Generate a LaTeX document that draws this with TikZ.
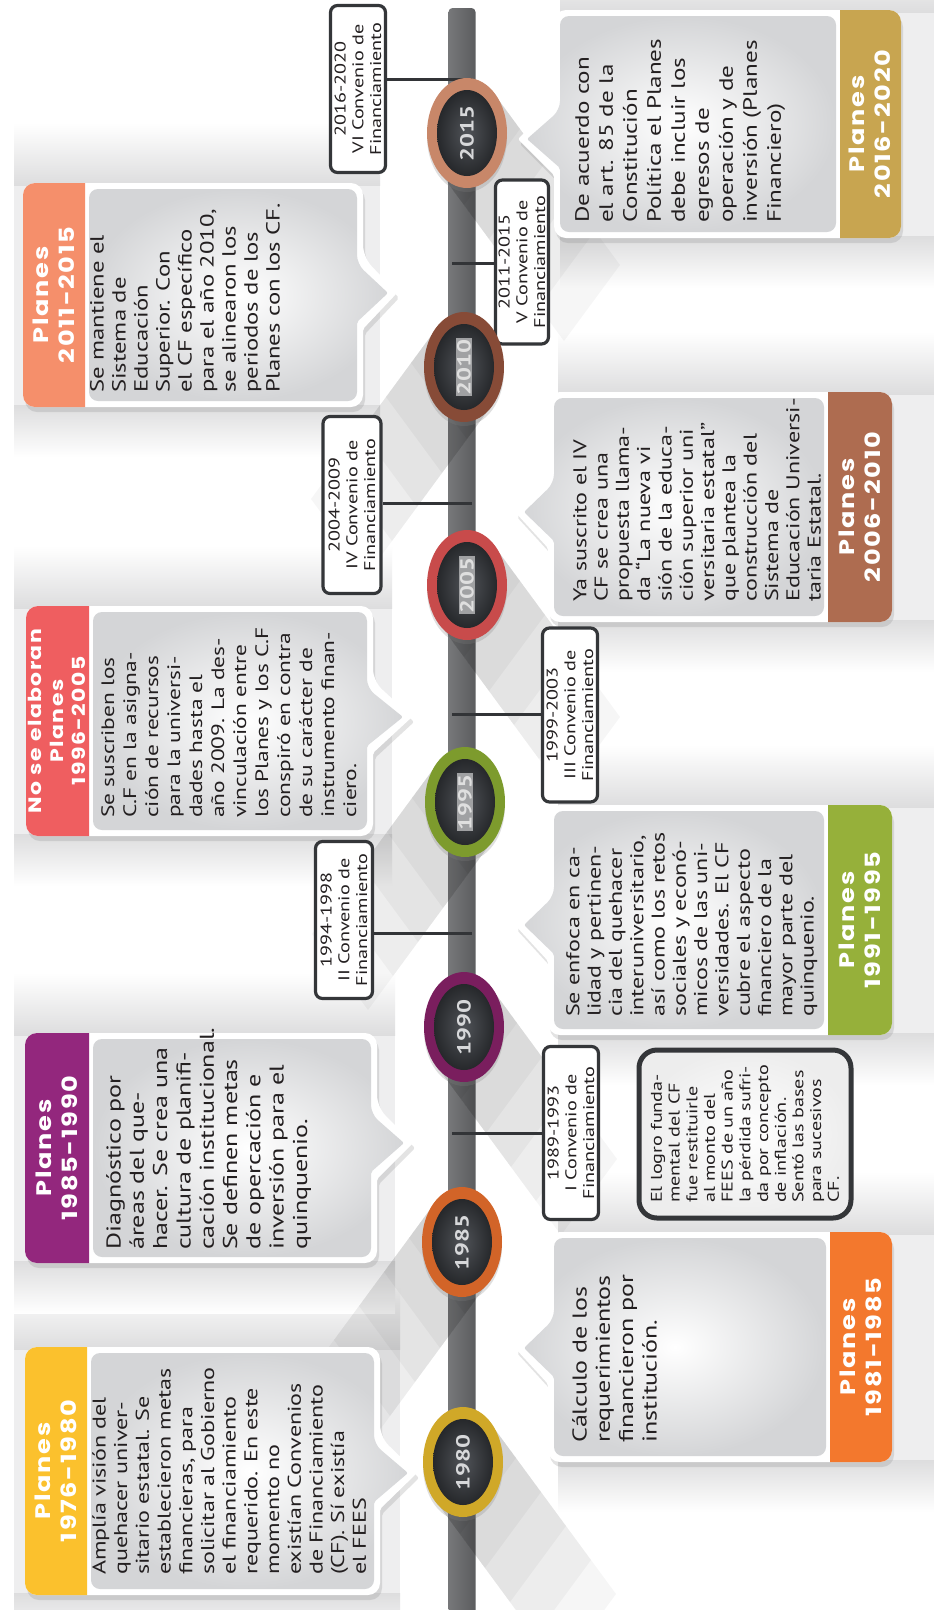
\documentclass[tikz,border=0pt]{standalone}
\usepackage{fontspec}
\setmainfont{PT Sans}[FakeStretch=1.30]
\newfontfamily\titlefont{Poppins}[FakeStretch=1.22,LetterSpace=8]
\usetikzlibrary{shapes.geometric,shadows}

\definecolor{bodytext}{RGB}{35,31,32}
\definecolor{bodyedge}{RGB}{212,213,215}
\definecolor{bandgray}{RGB}{221,221,222}
\definecolor{bandlight}{RGB}{238,238,239}
\definecolor{spinecol}{RGB}{92,93,95}
\definecolor{spinelt}{RGB}{118,119,121}
\definecolor{tickcol}{RGB}{50,52,55}
\definecolor{convline}{RGB}{52,54,57}
\definecolor{coredark}{RGB}{38,40,43}
\definecolor{corelight}{RGB}{80,83,88}
\definecolor{yeartext}{RGB}{215,216,218}
\definecolor{hlgray}{RGB}{160,161,163}
\definecolor{tab1}{RGB}{251,193,45}
\definecolor{tab2}{RGB}{147,39,125}
\definecolor{tab3}{RGB}{239,94,96}
\definecolor{tab4}{RGB}{245,143,107}
\definecolor{tab5}{RGB}{200,165,80}
\definecolor{tab6}{RGB}{174,108,80}
\definecolor{tab7}{RGB}{150,176,58}
\definecolor{tab8}{RGB}{243,120,45}
\definecolor{r1980}{RGB}{208,168,40}
\definecolor{r1985}{RGB}{210,100,40}
\definecolor{r1990}{RGB}{122,30,94}
\definecolor{r1995}{RGB}{125,155,45}
\definecolor{r2005}{RGB}{200,75,75}
\definecolor{r2010}{RGB}{135,75,55}
\definecolor{r2015}{RGB}{200,135,105}

% #1 x0, #2 tab/body split, #3 x1, #4 y0, #5 y1, #6 tip x, #7 tip y, #8 tab colour
\newcommand\leftcallout[8]{%
  \path[calloutframe] (#1,#4) -- (#3,#4) -- (#3,{#7-36}) [rounded corners=2pt] -- (#6,#7) -- (#3,{#7+36}) [rounded corners=12pt] -- (#3,#5) -- (#1,#5) -- cycle;
  \path[calloutbody] ({#2+4},{#4+6}) -- ({#3-6},{#4+6}) -- ({#3-6},{#7-29}) [rounded corners=2pt] -- ({#6-9},#7) -- ({#3-6},{#7+29}) [rounded corners=9pt] -- ({#3-6},{#5-6}) -- ({#2+4},{#5-6}) -- cycle;
  \begin{scope}
    \clip ({#1-2},{#4-2}) rectangle (#2,{#5+2});
    \fill[#8, rounded corners=12pt] (#1,#4) rectangle ({#2+20},#5);
  \end{scope}
}
% #1 x0 (pointer side), #2 body/tab split, #3 x1, #4 y0, #5 y1, #6 tip x, #7 tip y, #8 tab colour
\newcommand\rightcallout[8]{%
  \path[calloutframe] (#3,#4) -- (#1,#4) -- (#1,{#7-36}) [rounded corners=2pt] -- (#6,#7) -- (#1,{#7+36}) [rounded corners=12pt] -- (#1,#5) -- (#3,#5) -- cycle;
  \path[calloutbody] ({#2-4},{#4+6}) -- ({#1+6},{#4+6}) -- ({#1+6},{#7-29}) [rounded corners=2pt] -- ({#6+9},#7) -- ({#1+6},{#7+29}) [rounded corners=9pt] -- ({#1+6},{#5-6}) -- ({#2-4},{#5-6}) -- cycle;
  \begin{scope}
    \clip (#2,{#4-2}) rectangle ({#3+2},{#5+2});
    \fill[#8, rounded corners=12pt] ({#2-20},#4) rectangle (#3,#5);
  \end{scope}
}
% soft band behind a box: #1 left x, #2 right x, #3 y0, #4 y1
\newcommand\softband[4]{%
  \fill[bandlight] (#1,#3) rectangle (#2,#4);
  \shade[top color=white, bottom color=bandgray] (#1,{#3-60}) rectangle (#2,{#3+2});
  \shade[top color=bandgray, bottom color=white] (#1,{#4-2}) rectangle (#2,{#4+50});
}
% #1 cx, #2 cy, #3 direction (1 = down-right, -1 = down-left)
\newcommand\longshadow[3]{%
  \foreach \L in {25,50,75,100,125}{%
    \fill[lshadow] ({#1+(#3)*28},{#2-38}) -- ({#1+(#3)*(28+\L)},{#2-38+1.36*\L}) -- ({#1-(#3)*28+(#3)*\L},{#2+38+1.36*\L}) -- ({#1-(#3)*28},{#2+38}) -- cycle;
  }%
}

\begin{document}
\begin{tikzpicture}[x=1pt,y=-1pt,
  calloutframe/.style={fill=white, rounded corners=12pt, drop shadow={opacity=0.22, shadow xshift=2pt, shadow yshift=-5pt}},
  calloutbody/.style={inner color=white, outer color=bodyedge, rounded corners=9pt},
  body/.style={rotate=90, anchor=north west, align=left, text=bodytext, inner sep=0pt},
  ttl/.style={rotate=90, align=center, text=white, inner sep=0pt},
  conv/.style={rotate=90, draw=convline, line width=3.2pt, fill=white, rounded corners=7pt, align=center, inner sep=0pt, text=bodytext, font=\fontsize{15.5}{17.8}\selectfont},
  ring/.style={ellipse, minimum width=80pt, minimum height=110pt, inner sep=0pt, drop shadow={opacity=0.25, shadow xshift=0pt, shadow yshift=-4pt}},
  core/.style={ellipse, minimum width=60pt, minimum height=86pt, inner sep=0pt, inner color=corelight, outer color=coredark},
  yr/.style={rotate=90, text=yeartext, inner sep=1pt, font=\bfseries\fontsize{19}{19}\selectfont},
  hl/.style={fill=hlgray, text=gray!25},
  tick/.style={draw=tickcol, line width=3pt},
  lshadow/.style={fill=black, opacity=0.035},
  bigtitle/.style={font=\titlefont\bfseries\fontsize{21}{26}\selectfont}
]
\useasboundingbox (0,0) rectangle (934,1610);
\clip (0,0) rectangle (934,1610);
\fill[white] (0,0) rectangle (934,1610);

% background bands
\softband{14}{400}{1347}{1595}
\softband{14}{395}{1033}{1263}
\softband{14}{392}{606}{836}
\softband{14}{380}{183}{407}
\softband{560}{934}{10}{238}
\softband{558}{934}{392}{622}
\softband{558}{934}{805}{1035}
\softband{558}{934}{1232}{1462}

% spine
\node[rectangle, rounded corners=4pt, left color=spinelt, right color=spinecol, minimum width=27pt, minimum height=1620pt, inner sep=0pt] (spine) at (462,818) {};

% long shadows
\longshadow{467}{133}{1}
\longshadow{464}{367}{-1}
\longshadow{467}{585}{1}
\longshadow{465}{802}{-1}
\longshadow{464}{1027}{1}
\longshadow{462}{1242}{-1}
\longshadow{463}{1462}{1}

% callout boxes
\leftcallout{25}{87}{380}{1347}{1595}{417}{1473}{tab1}
\leftcallout{25}{89}{377}{1033}{1263}{413}{1143}{tab2}
\leftcallout{26}{89}{373}{606}{836}{412}{717}{tab3}
\leftcallout{23}{85}{363}{183}{407}{397}{293}{tab4}
\rightcallout{554}{840}{901}{10}{238}{518}{139}{tab5}
\rightcallout{548}{828}{892}{392}{622}{515}{512}{tab6}
\rightcallout{548}{828}{892}{805}{1035}{515}{925}{tab7}
\rightcallout{548}{830}{892}{1232}{1462}{515}{1348}{tab8}

% titles
\node[ttl, bigtitle] (t1) at (56,1471) {Planes\\1976-1980};
\node[ttl, bigtitle] (t2) at (57,1148) {Planes\\1985-1990};
\node[ttl, font=\titlefont\bfseries\fontsize{18}{22}\selectfont] (t3) at (57,721) {No se elaboran\\Planes\\1996-2005};
\node[ttl, bigtitle] (t4) at (54,295) {Planes\\2011-2015};
\node[ttl, bigtitle] (t5) at (870,124) {Planes\\2016-2020};
\node[ttl, bigtitle] (t6) at (860,507) {Planes\\2006-2010};
\node[ttl, bigtitle] (t7) at (860,920) {Planes\\1991-1995};
\node[ttl, bigtitle] (t8) at (861,1347) {Planes\\1981-1985};

% body texts
\node[body, font=\fontsize{18.5}{21.7}\selectfont] (b1) at (92,1575) {Amplía visión del\\quehacer univer-\\sitario estatal. Se\\establecieron metas\\financieras, para\\solicitar al Gobierno\\el financiamiento\\requerido. En este\\momento no\\existían Convenios\\de Financiamiento\\(CF). Sí existía\\el FEES};
\node[body, font=\fontsize{20}{23.3}\selectfont] (b2) at (106,1250) {Diagnóstico por\\áreas del que-\\hacer. Se crea una\\cultura de planifi-\\cación institucional.\\Se definen metas\\de opercación e\\inversión para el\\quinquenio.};
\node[body, font=\fontsize{18}{22}\selectfont] (b3) at (101,818) {Se suscriben los\\C.F en la asigna-\\ción de recursos\\para la universi-\\dades hasta el\\año 2009. La des-\\vinculación entre\\los Planes y los C.F\\conspiró en contra\\de su carácter de\\instrumento finan-\\ciero.};
\node[body, font=\fontsize{19}{22}\selectfont] (b4) at (90,393) {Se mantiene el\\Sistema de\\Educación\\Superior. Con\\el CF específico\\para el año 2010,\\se alinearon los\\periodos de los\\Planes con los CF.};
\node[body, font=\fontsize{19.3}{24}\selectfont] (b5) at (575,223) {De acuerdo con\\el art. 85 de la\\Constitución\\Política el Planes\\debe incluir los\\egresos de\\operación y de\\inversión (Planes\\Financiero)};
\node[body, font=\fontsize{18.5}{21.3}\selectfont] (b6) at (573,602) {Ya suscrito el IV\\CF se crea una\\propuesta llama-\\da “La nueva vi\\sión de la educa-\\ción superior uni\\versitaria estatal”\\que plantea la\\construcción del\\Sistema de\\Educación Universi-\\taria Estatal.};
\node[body, font=\fontsize{18.5}{21.3}\selectfont] (b7) at (566,1017) {Se enfoca en ca-\\lidad y pertinen-\\cia del quehacer\\interuniversitario,\\así como los retos\\sociales y econó-\\micos de las uni-\\versidades. El CF\\cubre el aspecto\\financiero de la\\mayor parte del\\quinquenio.};
\node[body, font=\fontsize{20}{23.3}\selectfont] (b8) at (572,1443) {Cálculo de los\\requerimientos\\financieron por\\institución.};

% logro box
\node[rotate=90, draw=convline, line width=5pt, rounded corners=18pt, inner color=white, outer color=gray!14, minimum width=168pt, minimum height=212pt, align=left, text=bodytext, font=\fontsize{15.5}{17.7}\selectfont, inner sep=0pt] (logro) at (745,1134) {El logro funda-\\mental del CF\\fue restituirle\\al monto del\\FEES de un año\\la pérdida sufri-\\da por concepto\\de inflación.\\Sentó las bases\\para sucesivos\\CF.};

% convenio boxes
\node[conv, minimum width=167pt, minimum height=55pt] (cv6) at (358,89) {2016-2020\\VI Convenio de\\Financiamiento};
\node[conv, minimum width=164pt, minimum height=53pt] (cv5) at (522,262) {2011-2015\\V Convenio de\\Financiamiento};
\node[conv, minimum width=177pt, minimum height=58pt] (cv4) at (352,505) {2004-2009\\IV Convenio de\\Financiamiento};
\node[conv, minimum width=174pt, minimum height=55pt] (cv3) at (570,715) {1999-2003\\III Convenio de\\Financiamiento};
\node[conv, minimum width=157pt, minimum height=57pt] (cv2) at (344,920) {1994-1998\\II Convenio de\\Financiamiento};
\node[conv, minimum width=173pt, minimum height=55pt] (cv1) at (571,1133) {1989-1993\\I Convenio de\\Financiamiento};

% ticks to the spine
\coordinate (k6) at (472,79);
\coordinate (k5) at (452,263);
\coordinate (k4) at (472,503);
\coordinate (k3) at (452,714);
\coordinate (k2) at (472,933);
\coordinate (k1) at (452,1133);
\draw[tick] (cv6.south |- k6) -- (k6);
\draw[tick] (k5) -- (cv5.north |- k5);
\draw[tick] (cv4.south |- k4) -- (k4);
\draw[tick] (k3) -- (cv3.north |- k3);
\draw[tick] (cv2.south |- k2) -- (k2);
\draw[tick] (k1) -- (cv1.north |- k1);

% year circles
\node[ring, fill=r2015] (c2015) at (467,133) {};
\node[core] (i2015) at (c2015.center) {};
\node[yr] (y2015) at (c2015.center) {2015};
\node[ring, fill=r2010] (c2010) at (464,367) {};
\node[core] (i2010) at (c2010.center) {};
\node[yr, hl] (y2010) at (c2010.center) {2010};
\node[ring, fill=r2005] (c2005) at (467,585) {};
\node[core] (i2005) at (c2005.center) {};
\node[yr, hl] (y2005) at (c2005.center) {2005};
\node[ring, fill=r1995] (c1995) at (465,802) {};
\node[core] (i1995) at (c1995.center) {};
\node[yr, hl] (y1995) at (c1995.center) {1995};
\node[ring, fill=r1990] (c1990) at (464,1027) {};
\node[core] (i1990) at (c1990.center) {};
\node[yr] (y1990) at (c1990.center) {1990};
\node[ring, fill=r1985] (c1985) at (462,1242) {};
\node[core] (i1985) at (c1985.center) {};
\node[yr] (y1985) at (c1985.center) {1985};
\node[ring, fill=r1980] (c1980) at (463,1462) {};
\node[core] (i1980) at (c1980.center) {};
\node[yr] (y1980) at (c1980.center) {1980};
\end{tikzpicture}
\end{document}
